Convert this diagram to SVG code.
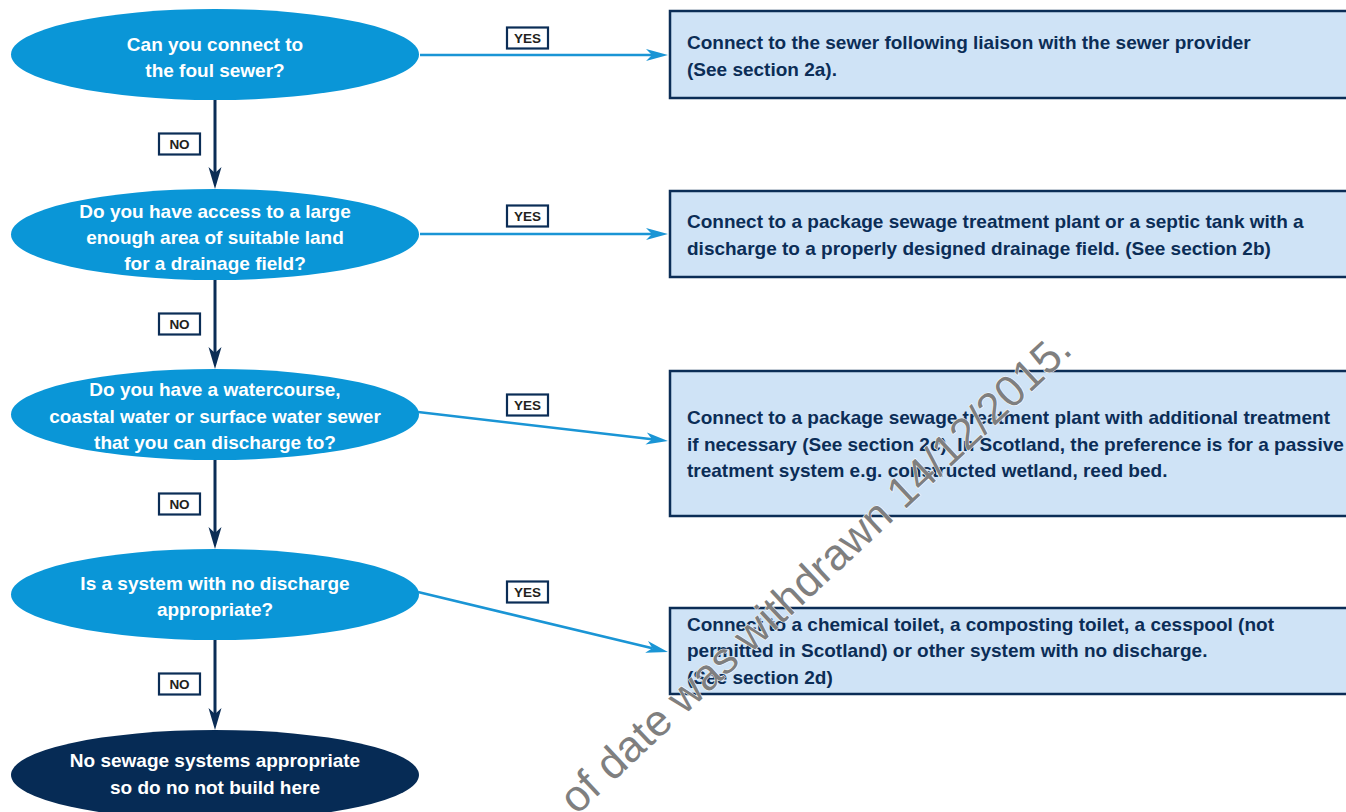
<svg xmlns="http://www.w3.org/2000/svg" width="1346" height="812" viewBox="0 0 1346 812">
  <style>
    .q { fill: #0a96d7; }
    .qd { fill: #062b55; }
    .qt { font-family: "Liberation Sans", Arial, sans-serif; font-weight: bold; font-size: 19px; fill: #ffffff; text-anchor: middle; }
    .box { fill: #cfe3f6; stroke: #0b2d56; stroke-width: 2.5; }
    .bt { font-family: "Liberation Sans", Arial, sans-serif; font-weight: bold; font-size: 19px; fill: #0b2d56; }
    .lbl { fill: #ffffff; stroke: #0b2d56; stroke-width: 2.2; }
    .lt { font-family: "Liberation Sans", Arial, sans-serif; font-weight: bold; font-size: 13.5px; fill: #231f20; text-anchor: middle; }
    .yes { stroke: #1a95d5; stroke-width: 2.5; fill: none; marker-end: url(#ay); }
    .no { stroke: #0b2d56; stroke-width: 3; fill: none; marker-end: url(#an); }
    .wm { font-family: "Liberation Sans", Arial, sans-serif; font-size: 44px; fill: #7f7f7f; stroke: #ffffff; stroke-width: 1; paint-order: stroke; }
  </style>
  <defs>
    <marker id="ay" markerUnits="userSpaceOnUse" markerWidth="24" markerHeight="14" refX="6" refY="6.5" orient="auto">
      <path d="M0,0.5 L22,6.5 L0,12.5 L6,6.5 Z" fill="#1a95d5"/>
    </marker>
    <marker id="an" markerUnits="userSpaceOnUse" markerWidth="24" markerHeight="14" refX="6" refY="6.5" orient="auto">
      <path d="M0,0 L22,6.5 L0,13 L6,6.5 Z" fill="#0b2d56"/>
    </marker>
  </defs>

  <g id="connectors">
    <path class="yes" d="M420,55 L652,55"/>
    <path class="yes" d="M420,234 L652,234"/>
    <path class="yes" d="M418,412 L652.1,439.2"/>
    <path class="yes" d="M418,592 L652.4,648.3"/>
    <path class="no" d="M215,100 L215,173"/>
    <path class="no" d="M215,280 L215,353"/>
    <path class="no" d="M215,460 L215,533"/>
    <path class="no" d="M215,640 L215,714"/>
    <g id="label-yes-1"><rect class="lbl" x="507" y="27.5" width="41" height="21"/><text class="lt" x="527.5" y="43">YES</text></g>
    <g id="label-yes-2"><rect class="lbl" x="507" y="205.5" width="41" height="21"/><text class="lt" x="527.5" y="221">YES</text></g>
    <g id="label-yes-3"><rect class="lbl" x="507" y="394.5" width="41" height="21"/><text class="lt" x="527.5" y="410">YES</text></g>
    <g id="label-yes-4"><rect class="lbl" x="507" y="581.5" width="41" height="21"/><text class="lt" x="527.5" y="597">YES</text></g>
    <g id="label-no-1"><rect class="lbl" x="159" y="133.5" width="41" height="21"/><text class="lt" x="179.5" y="149">NO</text></g>
    <g id="label-no-2"><rect class="lbl" x="159" y="313.5" width="41" height="21"/><text class="lt" x="179.5" y="329">NO</text></g>
    <g id="label-no-3"><rect class="lbl" x="159" y="493.5" width="41" height="21"/><text class="lt" x="179.5" y="509">NO</text></g>
    <g id="label-no-4"><rect class="lbl" x="159" y="673.5" width="41" height="21"/><text class="lt" x="179.5" y="689">NO</text></g>
  </g>

  <g id="q1">
    <ellipse class="q" cx="215" cy="54.5" rx="204" ry="45.5"/>
    <text class="qt" x="215" y="51">Can you connect to</text>
    <text class="qt" x="215" y="77">the foul sewer?</text>
  </g>
  <g id="q2">
    <ellipse class="q" cx="215" cy="234.5" rx="204" ry="45.5"/>
    <text class="qt" x="215" y="218">Do you have access to a large</text>
    <text class="qt" x="215" y="244">enough area of suitable land</text>
    <text class="qt" x="215" y="270">for a drainage field?</text>
  </g>
  <g id="q3">
    <ellipse class="q" cx="215" cy="414.5" rx="204" ry="45.5"/>
    <text class="qt" x="215" y="396">Do you have a watercourse,</text>
    <text class="qt" x="215" y="423">coastal water or surface water sewer</text>
    <text class="qt" x="215" y="449">that you can discharge to?</text>
  </g>
  <g id="q4">
    <ellipse class="q" cx="215" cy="594.5" rx="204" ry="45.5"/>
    <text class="qt" x="215" y="590">Is a system with no discharge</text>
    <text class="qt" x="215" y="616">appropriate?</text>
  </g>
  <g id="end">
    <ellipse class="qd" cx="215" cy="775" rx="204" ry="45"/>
    <text class="qt" x="215" y="767">No sewage systems appropriate</text>
    <text class="qt" x="215" y="794">so do no not build here</text>
  </g>

  <g id="a1">
    <rect class="box" x="670" y="11" width="700" height="87"/>
    <text class="bt" x="687" y="49">Connect to the sewer following liaison with the sewer provider</text>
    <text class="bt" x="687" y="76">(See section 2a).</text>
  </g>
  <g id="a2">
    <rect class="box" x="670" y="191" width="700" height="86"/>
    <text class="bt" x="687" y="228">Connect to a package sewage treatment plant or a septic tank with a</text>
    <text class="bt" x="687" y="255">discharge to a properly designed drainage field. (See section 2b)</text>
  </g>
  <g id="a3">
    <rect class="box" x="670" y="371" width="700" height="145"/>
    <text class="bt" x="687" y="424">Connect to a package sewage treatment plant with additional treatment</text>
    <text class="bt" x="687" y="451">if necessary (See section 2c). In Scotland, the preference is for a passive</text>
    <text class="bt" x="687" y="477">treatment system e.g. constructed wetland, reed bed.</text>
  </g>
  <g id="a4">
    <rect class="box" x="670" y="608" width="700" height="86"/>
    <text class="bt" x="687" y="631">Connect to a chemical toilet, a composting toilet, a cesspool (not</text>
    <text class="bt" x="687" y="657">permitted in Scotland) or other system with no discharge.</text>
    <text class="bt" x="687" y="684">(See section 2d)</text>
  </g>

  <g id="watermark">
    <text class="wm" x="1074" y="352" text-anchor="end" transform="rotate(-43 1074 352)">of date was withdrawn 14/12/2015.</text>
  </g>
</svg>
